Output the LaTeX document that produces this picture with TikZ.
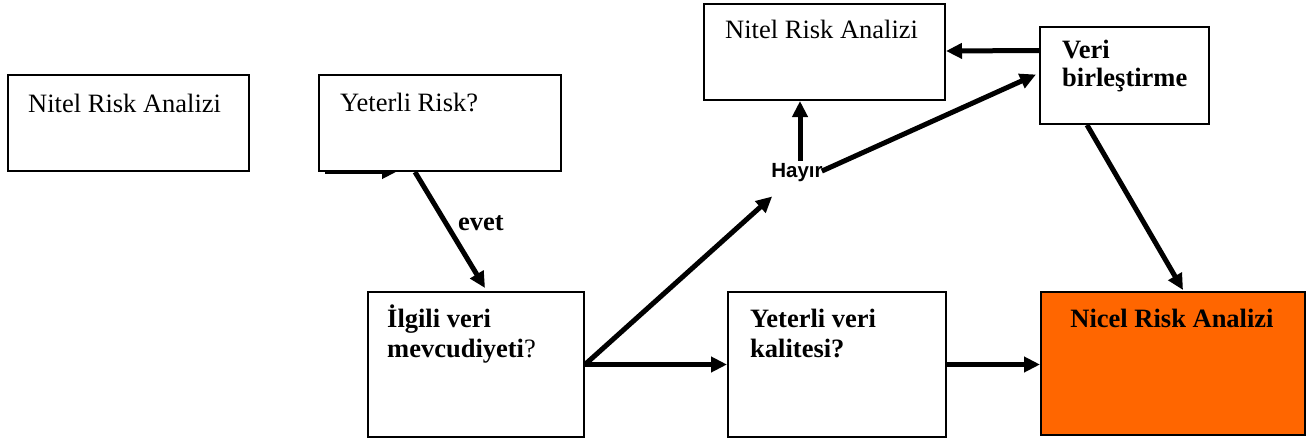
\documentclass[tikz,border=0pt]{standalone}
\usepackage{fontspec}
\setmainfont{Liberation Serif}
\newfontfamily\arialfont{Liberation Sans}
\usetikzlibrary{arrows.meta,calc}
\definecolor{nicelorange}{HTML}{FF6600}
\tikzset{
  box/.style={draw=black,line width=2pt,fill=white,inner sep=0pt,anchor=north west},
  lbl/.style={anchor=base west,inner sep=0pt,font=\fontsize{26.5}{30}\selectfont},
  arr/.style={line width=5pt,-{Triangle[length=16pt,width=15pt]}},
}
\begin{document}
\begin{tikzpicture}[x=1pt,y=-1pt]
\useasboundingbox (0,0) rectangle (1311,439);

% short arrow partly hidden under the "Yeterli Risk?" box
\coordinate (sa) at (325,171);
\coordinate (sb) at (398,171);
\draw[arr] (sa) -- (sb);

% boxes
\node[box,minimum width=241pt,minimum height=96pt] (nitelL) at (7,74) {};
\node[box,minimum width=242pt,minimum height=96pt] (yr) at (318,74) {};
\node[box,minimum width=241pt,minimum height=96pt] (nitelT) at (703,3) {};
\node[box,minimum width=169pt,minimum height=97pt] (veri) at (1039,26) {};
\node[box,minimum width=216pt,minimum height=145pt] (ilg) at (367,291) {};
\node[box,minimum width=218pt,minimum height=145pt] (yvk) at (727,291) {};
\node[box,fill=nicelorange,minimum width=264pt,minimum height=143pt] (nicel) at (1040,291) {};

% texts
\node[lbl] (tNitelL) at (28,112) {Nitel Risk Analizi};
\node[lbl] (tYr) at (340,111) {Yeterli Risk?};
\node[lbl] (tNitelT) at (725,38) {Nitel Risk Analizi};
\node[lbl] (tVeri1) at (1062,58) {\textbf{Veri}};
\node[lbl] (tVeri2) at (1062,86) {\textbf{birleştirme}};
\node[lbl] (tIlg1) at (387,327) {\textbf{İlgili veri}};
\node[lbl] (tIlg2) at (387,357) {\textbf{mevcudiyeti}?};
\node[lbl] (tYvk1) at (750,327) {\textbf{Yeterli veri}};
\node[lbl] (tYvk2) at (750,357) {\textbf{kalitesi?}};
\node[lbl,anchor=base] (tNicel) at (1172,327) {\textbf{Nicel Risk Analizi}};
\node[lbl,anchor=base west] (evet) at (458,230) {\textbf{evet}};
\node[inner sep=1pt,anchor=base,font=\arialfont\bfseries\fontsize{20.5}{24}\selectfont] (hayir) at (797,177) {Hayır};

% connectors
\draw[arr] ($(yr.south west)+(97,0)$) -- ($(ilg.north west)+(118,-3)$);
\draw[arr] (ilg.east) -- (yvk.west);
\draw[arr] (yvk.east) -- (yvk.east -| nicel.west);
\draw[arr] (ilg.east) -- ($(hayir.south west)+(2,14)$);
\draw[arr] ($(hayir.north)+(3,-1)$) -- ($(nitelT.south west)+(97,0)$);
\draw[arr] ($(hayir.east)+(-2,-1)$) -- ($(veri.west)+(-3,-1)$);
\draw[arr] ($(veri.west)+(0,-25)$) -- ($(nitelT.east)+(0,-1)$);
\draw[arr] ($(veri.south west)+(48,0)$) -- ($(nicel.north west)+(143,-1)$);
\end{tikzpicture}
\end{document}
